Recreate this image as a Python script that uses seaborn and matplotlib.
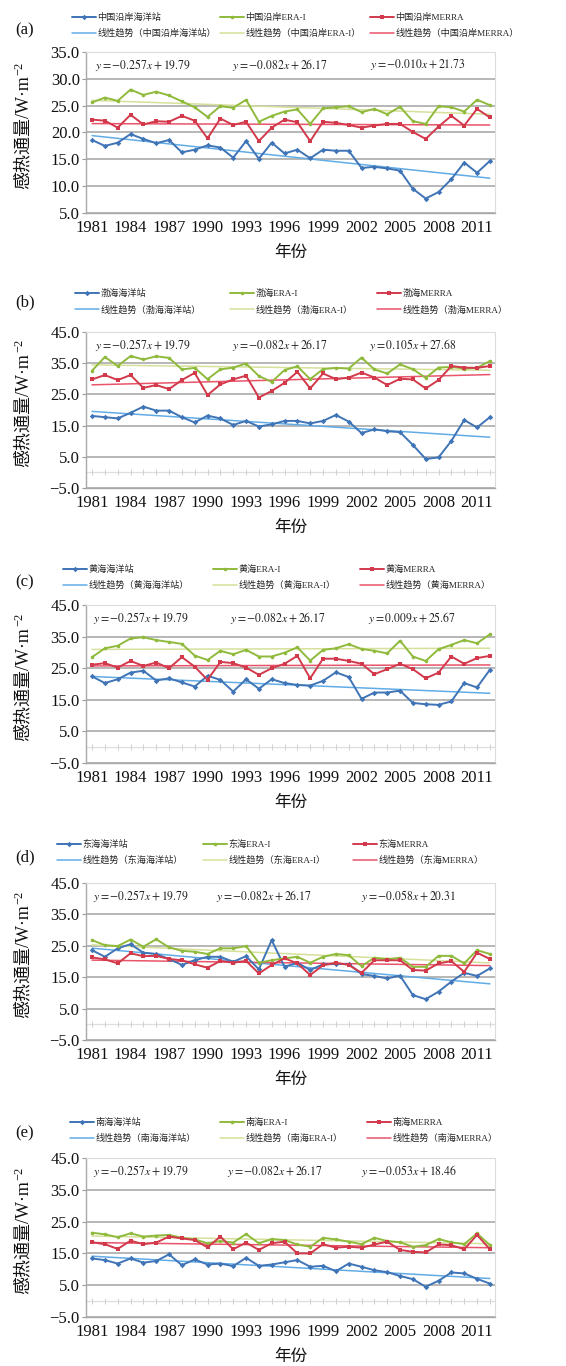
import numpy as np
import matplotlib
matplotlib.use("Agg")
import matplotlib.pyplot as plt
import seaborn as sns
from matplotlib.ticker import FixedLocator, FuncFormatter

# ---------------- data ----------------
years = list(range(1981, 2013))
regions = ["中国沿岸", "渤海", "黄海", "东海", "南海"]
panel_tags = ["(a)", "(b)", "(c)", "(d)", "(e)"]

a_station = [18.6, 17.5, 18.1, 19.7, 18.8, 18.0, 18.6, 16.3, 16.8, 17.6, 17.2, 15.3, 18.4, 15.1, 18.1, 16.1,
             16.8, 15.2, 16.8, 16.6, 16.6, 13.4, 13.6, 13.3, 12.9, 9.5, 7.7, 8.9, 11.3, 14.4, 12.5, 14.7]
a_era = [25.6, 26.5, 25.9, 28.0, 27.0, 27.6, 26.9, 25.8, 24.7, 22.9, 24.9, 24.6, 26.1, 22.0, 23.1, 23.9,
         24.3, 21.6, 24.5, 24.7, 24.9, 23.8, 24.4, 23.4, 24.8, 22.1, 21.6, 24.9, 24.7, 23.9, 26.1, 25.1]
a_merra = [22.4, 22.2, 20.9, 23.3, 21.5, 22.1, 22.0, 23.1, 22.2, 18.9, 22.6, 21.4, 22.0, 18.4, 20.9, 22.4,
           21.9, 18.4, 22.0, 21.8, 21.4, 20.9, 21.3, 21.6, 21.6, 20.1, 18.8, 21.1, 23.1, 21.3, 24.4, 22.8]

b_station = [18.1, 17.7, 17.3, 19.1, 21.1, 19.8, 19.8, 17.7, 16.0, 18.2, 17.3, 15.2, 16.5, 14.7, 15.4, 16.5,
             16.5, 15.7, 16.5, 18.4, 16.3, 12.6, 13.8, 13.2, 12.9, 8.8, 4.3, 4.8, 10.1, 16.8, 14.4, 17.7]
b_era = [32.6, 37.0, 34.1, 37.3, 36.2, 37.2, 36.7, 33.0, 33.5, 29.9, 33.0, 33.6, 34.9, 30.9, 29.0, 32.8,
         34.0, 29.9, 33.1, 33.5, 33.3, 36.8, 33.0, 31.7, 34.6, 33.1, 30.3, 33.6, 33.8, 33.3, 33.5, 35.7]
b_merra = [29.8, 31.2, 29.6, 31.2, 27.1, 28.0, 26.7, 29.6, 31.9, 24.8, 28.2, 29.8, 31.0, 24.0, 26.1, 28.7,
           32.2, 26.9, 31.7, 29.9, 30.4, 32.0, 30.4, 28.0, 30.0, 29.8, 26.9, 29.6, 34.1, 33.6, 33.5, 34.1]

c_station = [22.4, 20.3, 21.5, 23.6, 24.2, 21.1, 21.8, 20.5, 19.2, 22.6, 21.3, 17.6, 21.5, 18.5, 21.5, 20.3,
             19.7, 19.5, 21.0, 23.7, 22.2, 15.3, 17.3, 17.3, 17.9, 14.0, 13.6, 13.4, 14.5, 20.3, 18.9, 24.5]
c_era = [28.5, 31.3, 32.1, 34.4, 34.8, 33.9, 33.3, 32.7, 29.0, 27.6, 30.5, 29.4, 30.8, 28.7, 28.7, 29.9,
         31.6, 27.4, 30.8, 31.3, 32.6, 31.1, 30.5, 29.7, 33.7, 28.7, 27.3, 31.0, 32.4, 33.9, 32.9, 35.7]
c_merra = [26.1, 26.6, 25.2, 27.3, 25.7, 26.8, 25.0, 28.5, 25.5, 21.3, 27.0, 26.6, 25.2, 22.9, 25.0, 26.4,
           28.9, 21.8, 28.0, 28.0, 27.3, 26.4, 23.1, 24.7, 26.4, 24.7, 21.8, 23.6, 28.7, 26.4, 28.2, 28.9]

d_station = [23.6, 21.5, 24.2, 25.5, 22.8, 22.4, 20.8, 18.9, 20.4, 21.5, 21.5, 19.9, 21.7, 17.5, 26.8, 18.3,
             19.6, 17.3, 19.1, 19.2, 19.2, 16.0, 15.4, 14.6, 15.5, 9.3, 8.0, 10.4, 13.6, 16.4, 15.4, 17.8]
d_era = [26.8, 25.2, 24.9, 27.0, 24.7, 27.1, 24.5, 23.4, 23.1, 22.4, 24.2, 24.2, 24.9, 19.6, 20.4, 21.0,
         21.5, 19.6, 21.5, 22.4, 22.0, 18.5, 21.2, 20.7, 21.2, 18.3, 18.3, 21.8, 21.8, 19.4, 23.6, 22.4]
d_merra = [21.3, 20.7, 19.4, 22.6, 21.7, 21.8, 20.8, 20.4, 19.1, 18.0, 20.2, 19.6, 20.2, 16.2, 18.9, 21.0,
           19.4, 15.7, 18.8, 19.6, 18.9, 16.4, 20.4, 20.4, 20.4, 17.3, 17.1, 19.4, 20.1, 16.7, 22.8, 20.8]

e_station = [13.4, 12.9, 11.8, 13.4, 12.1, 12.6, 14.7, 11.3, 13.1, 11.5, 11.8, 11.0, 13.6, 11.1, 11.5, 12.2,
             12.9, 10.8, 11.1, 9.4, 11.8, 10.8, 9.7, 9.1, 7.9, 6.9, 4.5, 6.4, 9.0, 8.7, 7.0, 5.5]
e_era = [21.5, 21.0, 20.1, 21.3, 20.3, 20.6, 20.8, 19.9, 19.4, 18.2, 18.9, 18.4, 21.1, 18.2, 19.5, 19.2,
         17.8, 17.1, 19.9, 19.4, 18.7, 17.9, 19.9, 18.9, 18.5, 17.1, 17.6, 19.5, 18.5, 17.9, 21.3, 17.6]
e_merra = [18.5, 17.9, 16.4, 19.0, 17.9, 18.4, 20.3, 19.7, 19.2, 16.9, 20.3, 16.3, 18.4, 16.1, 18.2, 18.7,
           15.0, 15.0, 17.9, 16.8, 17.1, 16.8, 17.8, 18.7, 16.1, 15.5, 15.3, 17.8, 17.6, 16.3, 20.8, 16.3]

# equations printed on the panels (slope, intercept)
eq_station = (-0.257, 19.79)
eq_era = (-0.082, 26.17)
eq_merra = [(-0.010, 21.73), (0.105, 27.68), (0.009, 25.67), (-0.058, 20.31), (-0.053, 18.46)]

x_tick_labels = [1981, 1984, 1987, 1990, 1993, 1996, 1999, 2002, 2005, 2008, 2011]
y_ticks_a = [5.0, 10.0, 15.0, 20.0, 25.0, 30.0, 35.0]
y_ticks_other = [-5.0, 5.0, 15.0, 25.0, 35.0, 45.0]
y_label = "感热通量/W·m"
y_label_sup = "\u22122"
x_label = "年份"

series = [(a_station, a_era, a_merra), (b_station, b_era, b_merra), (c_station, c_era, c_merra),
          (d_station, d_era, d_merra), (e_station, e_era, e_merra)]

# ---------------- style ----------------
sns.set_theme(style="white")
plt.rcParams["font.family"] = ["Liberation Serif", "Noto Sans CJK SC", "DejaVu Sans"]
plt.rcParams["mathtext.fontset"] = "stix"
plt.rcParams["axes.unicode_minus"] = True

C_ST, C_ERA, C_ME = "#3f74b6", "#8fba3c", "#d23a4c"
T_ST, T_ERA, T_ME = "#62ace6", "#d6e09a", "#e9546b"

W, H = 566, 1366
fig = plt.figure(figsize=(W / 100, H / 100), dpi=100)
fig.patch.set_facecolor("white")

# layout (pixels)
ax_tops = [52, 332, 605, 883, 1158]
ax_bots = [213, 488, 763, 1040, 1317]
tag_y = [30, 302, 582, 857, 1133]
leg_rows = [21, 297, 573, 848, 1126]
leg_cols = [[72, 220, 370], [75, 230, 377], [63, 213, 360], [57, 203, 353], [70, 220, 367]]
eq_x = [[95, 232, 370], [95, 232, 369], [93, 230, 368], [93, 216, 361], [93, 227, 361]]
AX_L, AX_R = 86, 495


def fmt_eq(s, b):
    return r"$y={:.3f}x+{:.2f}$".format(s, b)


def yfmt(v, p):
    return "{:.1f}".format(v).replace("-", "\u2212")


axes = []
for i in range(5):
    st, era, me = series[i]
    reg = regions[i]
    top, bot = ax_tops[i], ax_bots[i]
    hpx = bot - top
    wpx = AX_R - AX_L
    ax = fig.add_axes([AX_L / W, 1 - bot / H, wpx / W, hpx / H])
    axes.append(ax)
    ax.set_facecolor("white")

    if i == 0:
        yt = y_ticks_a
    else:
        yt = y_ticks_other
    ax.set_ylim(yt[0], yt[-1])
    ax.set_xlim(1980.53, 2012.4)
    for v in yt:
        ax.axhline(v, color="#a3a3a3", lw=1.1, zorder=0)
    if i > 0:
        ax.axhline(0, color="#dedede", lw=0.9, zorder=0)
        ax.plot(years, [0] * len(years), ls="none", marker="|", ms=4, mew=0.7, color="#d0d0d0", zorder=0)

    # trend lines
    trend_labels = ["线性趋势（%s海洋站）" % reg, "线性趋势（%sERA-I）" % reg, "线性趋势（%sMERRA）" % reg]
    for vals, col, lab in zip([st, era, me], [T_ST, T_ERA, T_ME], trend_labels):
        sns.regplot(x=np.array(years, dtype=float), y=np.array(vals), ax=ax, scatter=False, ci=None,
                    truncate=True, label=lab, line_kws=dict(color=col, lw=1.1, zorder=2))

    # series
    sns.lineplot(x=years, y=st, ax=ax, color=C_ST, lw=1.4, marker="D", markersize=2.8,
                 markeredgewidth=0, legend=False, label="%s海洋站" % reg, zorder=4)
    sns.lineplot(x=years, y=era, ax=ax, color=C_ERA, lw=1.4, marker="o", markersize=2.6,
                 markeredgewidth=0, legend=False, label="%sERA-I" % reg, zorder=4)
    sns.lineplot(x=years, y=me, ax=ax, color=C_ME, lw=1.4, marker="s", markersize=3.2,
                 markeredgewidth=0, legend=False, label="%sMERRA" % reg, zorder=4)

    ax.set_ylim(yt[0], yt[-1])
    ax.set_xlim(1980.53, 2012.4)

    ax.yaxis.set_major_locator(FixedLocator(yt))
    ax.yaxis.set_major_formatter(FuncFormatter(yfmt))
    ax.xaxis.set_major_locator(FixedLocator(x_tick_labels))
    ax.xaxis.set_major_formatter(FuncFormatter(lambda v, p: "%d" % v))
    ax.tick_params(axis="y", which="major", length=3, width=0.8, color="#999999", pad=1.5,
                   labelsize=12, left=True)
    ax.tick_params(axis="x", which="major", length=0, pad=5, labelsize=12, bottom=True)
    for lab in ax.get_xticklabels() + ax.get_yticklabels():
        lab.set_color("#111111")

    for s in ["top", "right"]:
        ax.spines[s].set_color("#dcdcdc")
        ax.spines[s].set_linewidth(0.8)
    for s in ["left", "bottom"]:
        ax.spines[s].set_color("#a8a8a8")
        ax.spines[s].set_linewidth(1.0)

    ax.set_xlabel(x_label, fontsize=12, va="center", color="#111111")
    ax.xaxis.set_label_coords(0.5, -40 / hpx)
    ax.set_ylabel(y_label, fontsize=13, va="center", color="#111111")
    ax.yaxis.set_label_coords(-(AX_L - 23) / wpx, 0.5)

    # equations
    eqs = [fmt_eq(*eq_station), fmt_eq(*eq_era), fmt_eq(*eq_merra[i])]
    for k in range(3):
        ax.text((eq_x[i][k] - AX_L) / wpx, 1 - 13 / hpx, eqs[k], transform=ax.transAxes,
                fontsize=8.5, ha="left", va="center", color="#222222")

    # legends: three columns, two rows each
    hnd, lbl = ax.get_legend_handles_labels()
    hmap = dict(zip(lbl, hnd))
    col_labels = [["%s海洋站" % reg, trend_labels[0]],
                  ["%sERA-I" % reg, trend_labels[1]],
                  ["%sMERRA" % reg, trend_labels[2]]]
    for k in range(3):
        labs = col_labels[k]
        fig.legend([hmap[l] for l in labs], labs, loc="upper left",
                   bbox_to_anchor=(leg_cols[i][k] / W, 1 - (leg_rows[i] - 8) / H),
                   frameon=False, fontsize=6.6, borderpad=0, borderaxespad=0,
                   handlelength=2.6, handletextpad=0.15, labelspacing=0.75, numpoints=1)

    fig.text(15 / W, 1 - tag_y[i] / H, panel_tags[i], fontsize=12, ha="left", va="center",
             color="#111111")

# superscript of the y-axis unit, placed just after the end of each rotated label
renderer = fig.canvas.get_renderer()
for ax in axes:
    bb = ax.yaxis.label.get_window_extent(renderer)
    fig.text((bb.x0 + 0.3 * bb.width) / W, (bb.y1 + 1) / H, y_label_sup, rotation=90,
             fontsize=9, ha="center", va="bottom", color="#111111")

fig.savefig("out.png", dpi=100, facecolor="white")
